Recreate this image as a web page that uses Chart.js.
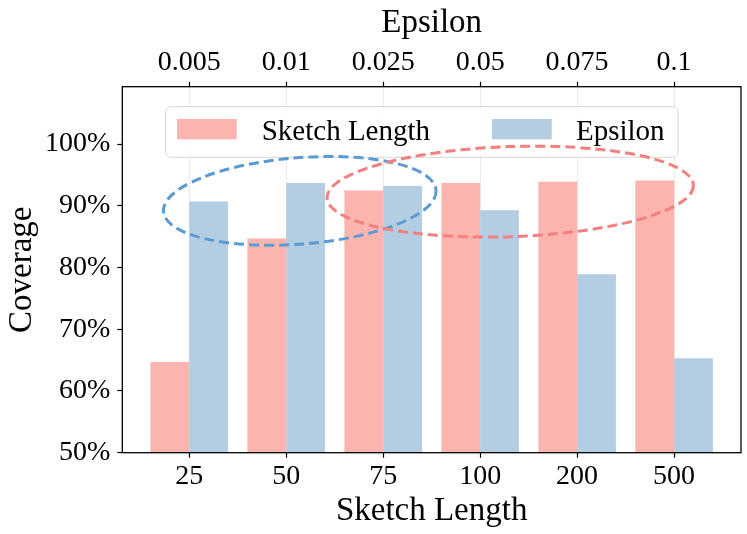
<!DOCTYPE html>
<html>
<head>
<meta charset="utf-8">
<script src="https://cdn.jsdelivr.net/npm/chart.js@4.4.1/dist/chart.umd.min.js"></script>
<style>
  html, body { margin: 0; padding: 0; background: #fff; }
  #wrap { width: 747px; height: 534px; }
</style>
</head>
<body>
<div id="wrap"><canvas id="coverage-chart"></canvas></div>
<script>
// chart data
const sketchLengths = ['25', '50', '75', '100', '200', '500'];
const epsilons = ['0.005', '0.01', '0.025', '0.05', '0.075', '0.1'];
const sketchCoverage = [64.7, 84.7, 92.5, 93.7, 93.9, 94.1];
const epsilonCoverage = [90.7, 93.7, 93.2, 89.3, 78.9, 65.3];
const yTicks = [50, 60, 70, 80, 90, 100];

// dashed ellipses around each trend (x = category index, y = coverage %)
const ellipses = [
    { cx: 1.14, cy: 90.8, rx: 1.41, ry: 7.0, angle: -4.5, color: '#5b9bd5' },
    { cx: 3.31, cy: 92.3, rx: 1.89, ry: 7.3, angle: -2.0, color: '#f47f7f' }
];

const pink = '#fbb4ae';
const blue = '#b3cde3';

document.addEventListener('DOMContentLoaded', function() {
    Chart.defaults.color = '#000';
    Chart.defaults.font.family = '"Liberation Serif", "Times New Roman", serif';

    const tickFont = { size: 28 };
    const titleFont = { size: 33 };
    const xMin = -0.69, xMax = 5.69;

    function indexTicks(scale) {
        scale.ticks = sketchLengths.map((_, i) => ({ value: i }));
    }

    // frame, legend box and ellipses on top of the bars
    const overlayPlugin = {
        id: 'overlay',
        afterDatasetsDraw(chart) {
            const ctx = chart.ctx;
            const area = chart.chartArea;
            const x = chart.scales.x, y = chart.scales.y;

            // frame
            ctx.save();
            ctx.strokeStyle = '#000';
            ctx.lineWidth = 1.3;
            ctx.strokeRect(area.left, area.top, area.right - area.left, area.bottom - area.top);
            ctx.restore();

            // legend
            const bx = area.left + 43.4, by = area.top + 20, bw = 512.3, bh = 50.6;
            ctx.save();
            ctx.beginPath();
            ctx.roundRect(bx, by, bw, bh, 5);
            ctx.fillStyle = 'rgba(255,255,255,0.8)';
            ctx.fill();
            ctx.strokeStyle = '#d6d6d6';
            ctx.lineWidth = 1;
            ctx.stroke();
            ctx.font = '29px "Liberation Serif", serif';
            ctx.textBaseline = 'middle';
            ctx.fillStyle = '#000';
            const items = [
                { label: chart.data.datasets[0].label, color: pink, sx: 11.3, tx: 96 },
                { label: chart.data.datasets[1].label, color: blue, sx: 326.3, tx: 410.3 }
            ];
            items.forEach(item => {
                ctx.fillStyle = item.color;
                ctx.fillRect(bx + item.sx, by + 12.3, 59.7, 20.3);
                ctx.fillStyle = '#000';
                ctx.fillText(item.label, bx + item.tx, by + 25.5);
            });
            ctx.restore();

            // ellipses
            ctx.save();
            ctx.lineWidth = 3;
            ctx.setLineDash([10, 5]);
            ellipses.forEach(e => {
                const px = x.getPixelForValue(e.cx);
                const py = y.getPixelForValue(e.cy);
                const rx = Math.abs(x.getPixelForValue(e.cx + e.rx) - px);
                const ry = Math.abs(y.getPixelForValue(e.cy + e.ry) - py);
                ctx.beginPath();
                ctx.ellipse(px, py, rx, ry, e.angle * Math.PI / 180, 0, 2 * Math.PI);
                ctx.strokeStyle = e.color;
                ctx.stroke();
            });
            ctx.restore();
        }
    };

    const ctx = document.getElementById('coverage-chart').getContext('2d');
    new Chart(ctx, {
        type: 'bar',
        data: {
            datasets: [
                {
                    label: 'Sketch Length',
                    data: sketchCoverage.map((v, i) => ({ x: i, y: v })),
                    backgroundColor: pink,
                    borderWidth: 0
                },
                {
                    label: 'Epsilon',
                    data: epsilonCoverage.map((v, i) => ({ x: i, y: v })),
                    backgroundColor: blue,
                    borderWidth: 0
                }
            ]
        },
        options: {
            responsive: true,
            maintainAspectRatio: false,
            animation: false,
            layout: { padding: { left: 0, right: 6, top: 0, bottom: 0 } },
            datasets: { bar: { categoryPercentage: 0.8, barPercentage: 1.0 } },
            plugins: {
                legend: { display: false },
                tooltip: { enabled: false }
            },
            scales: {
                x: {
                    type: 'linear',
                    position: 'bottom',
                    min: xMin,
                    max: xMax,
                    offset: false,
                    grid: {
                        offset: false,
                        color: '#ebebeb',
                        lineWidth: 1,
                        tickLength: 5,
                        tickColor: '#000',
                        tickWidth: 1.2
                    },
                    border: { display: false },
                    ticks: {
                        font: tickFont,
                        padding: 2,
                        autoSkip: false,
                        maxRotation: 0,
                        callback: v => sketchLengths[v]
                    },
                    title: {
                        display: true,
                        text: 'Sketch Length',
                        font: titleFont,
                        padding: { top: 0, bottom: 3 }
                    },
                    afterBuildTicks: indexTicks,
                    afterFit: s => { s.height = 81.3; }
                },
                x2: {
                    type: 'linear',
                    position: 'top',
                    min: xMin,
                    max: xMax,
                    offset: false,
                    grid: {
                        offset: false,
                        drawOnChartArea: false,
                        tickLength: 5,
                        tickColor: '#000',
                        tickWidth: 1.2
                    },
                    border: { display: false },
                    ticks: {
                        font: tickFont,
                        padding: 2,
                        autoSkip: false,
                        maxRotation: 0,
                        callback: v => epsilons[v]
                    },
                    title: {
                        display: true,
                        text: 'Epsilon',
                        font: titleFont,
                        padding: { top: 4, bottom: 0 }
                    },
                    afterBuildTicks: indexTicks,
                    afterFit: s => { s.height = 86.7; }
                },
                y: {
                    min: 50,
                    max: 109.3,
                    grid: {
                        drawOnChartArea: false,
                        tickLength: 5,
                        tickColor: '#000',
                        tickWidth: 1.2
                    },
                    border: { display: false },
                    ticks: {
                        font: tickFont,
                        padding: 7,
                        callback: v => v + '%'
                    },
                    title: {
                        display: true,
                        text: 'Coverage',
                        font: titleFont,
                        padding: { top: 3, bottom: 0 }
                    },
                    afterBuildTicks: scale => {
                        scale.ticks = yTicks.map(v => ({ value: v }));
                    },
                    afterFit: s => { s.width = 122.3; }
                }
            }
        },
        plugins: [overlayPlugin]
    });
});
</script>
</body>
</html>
